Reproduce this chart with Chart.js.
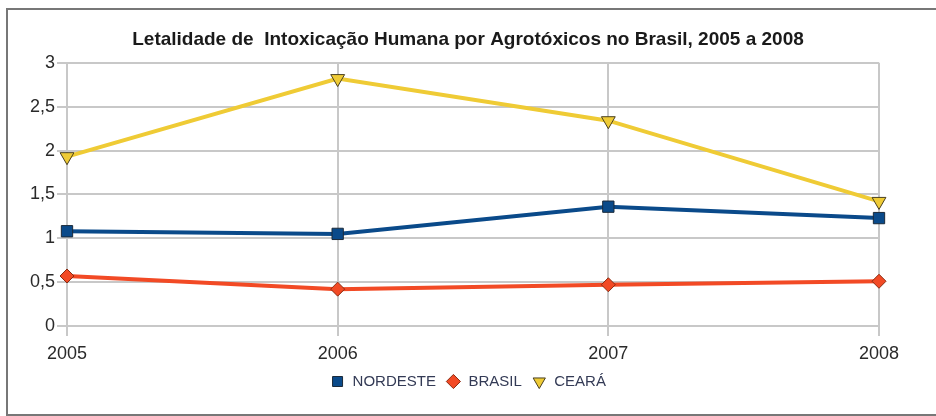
<!DOCTYPE html>
<html>
<head>
  <meta charset="utf-8">
  <title>Letalidade de Intoxicação Humana</title>
  <script src="https://cdn.jsdelivr.net/npm/chart.js"></script>
  <style>
    body { margin: 0; background: #fff; }
    #wrap { position: relative; width: 936px; height: 416px; }
    #frame { position: absolute; left: 6px; top: 8px; width: 940px; height: 404px; border: 2px solid #777; border-right: none; }
    canvas { position: absolute; left: 0; top: 0; }
  </style>
</head>
<body>
  <div id="wrap">
    <div id="frame"></div>
    <canvas id="lineChart" width="936" height="416"></canvas>
  </div>

  <script>
    const years = ['2005', '2006', '2007', '2008'];
    const nordeste = [1.08, 1.05, 1.36, 1.23];
    const brasil = [0.57, 0.42, 0.47, 0.51];
    const ceara = [1.93, 2.82, 2.34, 1.42];
    const yTickLabels = ['0', '0,5', '1', '1,5', '2', '2,5', '3'];

    const font = 'Liberation Sans, Arial, sans-serif';

    const ctx = document.getElementById('lineChart');
    const chart = new Chart(ctx, {
      type: 'line',
      data: {
        labels: years,
        datasets: [
          {
            label: 'NORDESTE',
            data: nordeste,
            borderColor: '#0a4a8a',
            backgroundColor: '#0a4a8a',
            pointBorderColor: '#1b2a3a',
            borderWidth: 4,
            pointStyle: 'rect',
            pointRadius: 8,
            pointBorderWidth: 1
          },
          {
            label: 'BRASIL',
            data: brasil,
            borderColor: '#f24a25',
            backgroundColor: '#f24a25',
            pointBorderColor: '#8a2a10',
            borderWidth: 4,
            pointStyle: 'rectRot',
            pointRadius: 7,
            pointBorderWidth: 1
          },
          {
            label: 'CEARÁ',
            data: ceara,
            borderColor: '#efcb35',
            backgroundColor: '#efcb35',
            pointBorderColor: '#4a4020',
            borderWidth: 4,
            pointStyle: 'triangle',
            pointRotation: 180,
            pointRadius: 8,
            pointBorderWidth: 1
          }
        ]
      },
      options: {
        responsive: false,
        animation: false,
        layout: { padding: { left: 0, right: 0, top: 0, bottom: 17 } },
        scales: {
          x: {
            offset: false,
            grid: { color: '#c8c8c8', lineWidth: 2, tickLength: 10 },
            border: { color: '#c8c8c8', width: 2 },
            ticks: { color: '#2a2a2a', font: { family: font, size: 18 }, padding: 7, maxRotation: 0 },
            afterFit: s => { s.height = 38; }
          },
          y: {
            min: 0,
            max: 3,
            grid: { color: '#c8c8c8', lineWidth: 2, tickLength: 10 },
            border: { color: '#c8c8c8', width: 2 },
            ticks: {
              stepSize: 0.5,
              color: '#2a2a2a',
              font: { family: font, size: 18 },
              padding: 2,
              callback: (v, i) => yTickLabels[i]
            },
            afterFit: s => { s.width = 67; }
          },
          // empty right axis so the plot ends at x=879 while title/legend stay centred
          yRight: {
            position: 'right',
            min: 0,
            max: 3,
            grid: { display: false },
            border: { display: false },
            ticks: { display: false },
            afterFit: s => { s.width = 57; }
          }
        },
        plugins: {
          title: {
            display: true,
            text: 'Letalidade de  Intoxicação Humana por Agrotóxicos no Brasil, 2005 a 2008',
            color: '#1a1a1a',
            font: { family: font, size: 19, weight: 'bold' },
            padding: { top: 28, bottom: 12 }
          },
          legend: {
            position: 'bottom',
            labels: {
              usePointStyle: true,
              color: '#333a55',
              font: { family: font, size: 15 },
              padding: 10,
              boxHeight: 10
            }
          }
        }
      }
    });
  </script>
</body>
</html>
